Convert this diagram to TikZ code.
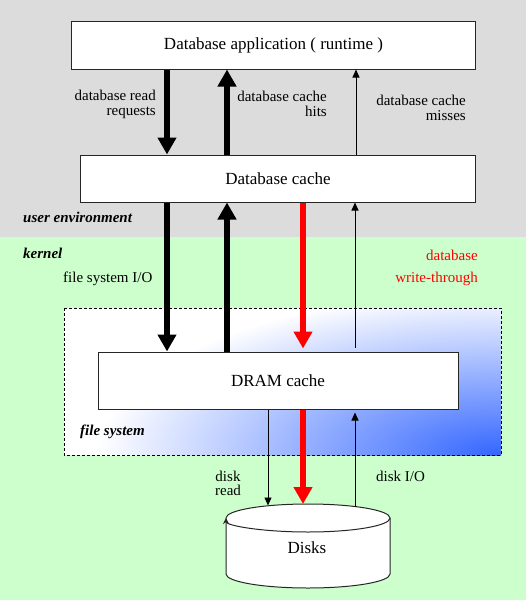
\documentclass[tikz,border=0pt]{standalone}
\usepackage{fontspec}
\setmainfont{Liberation Serif}
\usetikzlibrary{arrows.meta}
\definecolor{bggray}{HTML}{DCDCDC}
\definecolor{bggreen}{HTML}{CCFFCC}
\definecolor{fsblue}{HTML}{3366FF}
\definecolor{wtred}{HTML}{FF0000}
\pgfdeclareradialshading{fsglow}{\pgfpoint{0bp}{0bp}}{color(0bp)=(fsblue); color(25bp)=(white); color(50bp)=(white)}
\begin{document}
\begin{tikzpicture}[x=1pt,y=-1pt,
  box/.style={draw=black!85, line width=1pt, fill=white, inner sep=0pt, font=\fontsize{17}{20}\selectfont},
  lbl/.style={inner sep=0pt, font=\fontsize{15}{14.5}\selectfont, align=right},
  area/.style={inner sep=0pt, font=\fontsize{15}{18}\selectfont\bfseries\itshape},
  fat/.style={line width=5.5pt, -{Triangle[width=18pt,length=17pt]}},
  thin/.style={line width=0.9pt, -{Triangle[width=7pt,length=8pt]}},
  ]
\useasboundingbox (0,0) rectangle (526,600);
\fill[bggray] (0,0) rectangle (526,237);
\fill[bggreen] (0,237) rectangle (526,600);

% file system area
\begin{scope}
  \clip (64,308) rectangle (501,455);
  \fill[white] (64,308) rectangle (501,455);
  \shade[shading=fsglow] (497,456) ellipse [x radius=400, y radius=165];
\end{scope}
\draw[line width=0.9pt, dash pattern=on 3pt off 2pt] (64,308) rectangle (501,455);

% boxes
\node[box, minimum width=404pt, minimum height=48pt] (app) at (273.5,45) {Database application ( runtime )};
\node[box, minimum width=395pt, minimum height=47pt] (dbc) at (278,178.5) {Database cache};
\node[box, minimum width=360pt, minimum height=57pt] (dram) at (278,380.5) {DRAM cache};

% disks cylinder
\filldraw[fill=white, draw=black!85, line width=1pt]
  (226,518) -- (226,574) arc[start angle=180, end angle=0, x radius=82, y radius=14]
  -- (390,518) arc[start angle=0, end angle=-180, x radius=82, y radius=14] -- cycle;
\draw[draw=black!85, line width=1pt, -{Stealth[length=6pt,width=6pt]}]
  (390,518) arc[start angle=0, end angle=180, x radius=82, y radius=14];
\node[inner sep=0pt, font=\fontsize{17}{20}\selectfont] (disks) at (307,548) {Disks};

% column coordinates
\coordinate (xa) at (167,0);
\coordinate (xb) at (227,0);
\coordinate (xr) at (303,0);
\coordinate (xm) at (356,0);
\coordinate (xd) at (268,0);
\coordinate (xu) at (355,0);
\coordinate (dk1) at (268,505.5);
\coordinate (dk2) at (303,504);
\coordinate (dk3) at (355,506.5);

% arrows upper
\draw[fat] (app.south -| xa) -- (dbc.north -| xa);
\draw[fat] (dbc.north -| xb) -- (app.south -| xb);
\draw[thin] (dbc.north -| xm) -- (app.south -| xm);
% arrows middle
\draw[fat] (dbc.south -| xa) -- (dram.north -| xa);
\draw[fat] (dram.north -| xb) -- (dbc.south -| xb);
\draw[fat, wtred, shorten >=3pt] (dbc.south -| xr) -- (dram.north -| xr);
\draw[thin, shorten <=4pt] (dram.north -| xu) -- (dbc.south -| xu);
% arrows lower
\draw[thin] (dram.south -| xd) -- (dk1);
\draw[fat, wtred] (dram.south -| xr) -- (dk2);
\draw[thin, shorten >=3pt] (dk3) -- (dram.south -| xu);

% labels
\node[lbl, anchor=east] (l1) at (156,104.5) {database read\\requests};
\node[lbl, anchor=east] (l2) at (327,104) {database cache\\hits};
\node[lbl, anchor=east] (l3) at (466,108) {database cache\\misses};
\node[area, anchor=west] (ue) at (23,217) {user environment};
\node[area, anchor=west] (kn) at (23,253) {kernel};
\node[lbl, anchor=west] (fsio) at (63,279) {file system I/O};
\node[lbl, anchor=east, text=wtred, font=\fontsize{15}{22}\selectfont] (wt) at (478,267.5) {database\\write-through};
\node[area, anchor=west] (fs) at (80,432) {file system};
\node[lbl, align=center] (dr) at (228,483.5) {disk\\read};
\node[lbl, anchor=west] (dio) at (376,476) {disk I/O};
\end{tikzpicture}
\end{document}
